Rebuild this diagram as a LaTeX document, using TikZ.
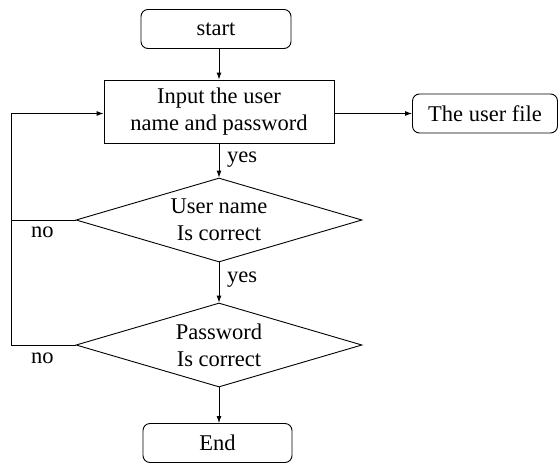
\documentclass[tikz,border=0pt]{standalone}
\usepackage{fontspec}
\setmainfont{Liberation Serif}
\usetikzlibrary{shapes.geometric,arrows.meta}
\begin{document}
\begin{tikzpicture}[x=1pt,y=-1pt,
  every node/.style={font=\fontsize{22.5}{27}\selectfont},
  termbox/.style={draw, rounded corners=7pt, minimum width=#1, minimum height=39pt, inner sep=0pt, line width=0.9pt},
  procbox/.style={draw, minimum width=230pt, minimum height=63pt, inner sep=0pt, align=center, line width=0.9pt},
  decision/.style={draw, diamond, aspect=3.4, minimum width=286pt, minimum height=84pt, inner sep=0pt, align=center, line width=0.9pt},
  flow/.style={line width=0.9pt, -{Latex[length=7pt,width=5pt]}},
  link/.style={line width=0.9pt},
  tag/.style={anchor=west, inner sep=0pt}
]
\useasboundingbox (0,0) rectangle (559,463);

% boxes
\node[termbox=150pt] (start) at (216,29) {start};
\node[procbox] (input) at (219,111.5) {Input the user\\name and password};
\node[termbox=145pt] (file) at (485,113.5) {The user file};
\node[decision] (d1) at (219,220) {User name\\Is correct};
\node[decision] (d2) at (219,345) {Password\\Is correct};
\node[termbox=149pt] (end) at (217.5,443) {End};

% main flow
\draw[flow] (start.south -| input.north) -- (input.north);
\draw[flow] (input.east |- file.west) -- (file.west);
\draw[flow] (input.south) -- (d1.north);
\draw[flow] (d1.south) -- (d2.north);
\draw[flow] (d2.south) -- (end.north -| d2.south);

% return loop on the left
\coordinate (lx) at (11,0);
\draw[link] (d1.west) -- (d1.west -| lx);
\draw[flow] (d2.west) -- (d2.west -| lx) |- (input.west |- file.west);

% labels
\node[tag] at (227,160) {yes};
\node[tag] at (227,280) {yes};
\node[tag] at (31,232) {no};
\node[tag] at (31,358) {no};
\end{tikzpicture}
\end{document}
